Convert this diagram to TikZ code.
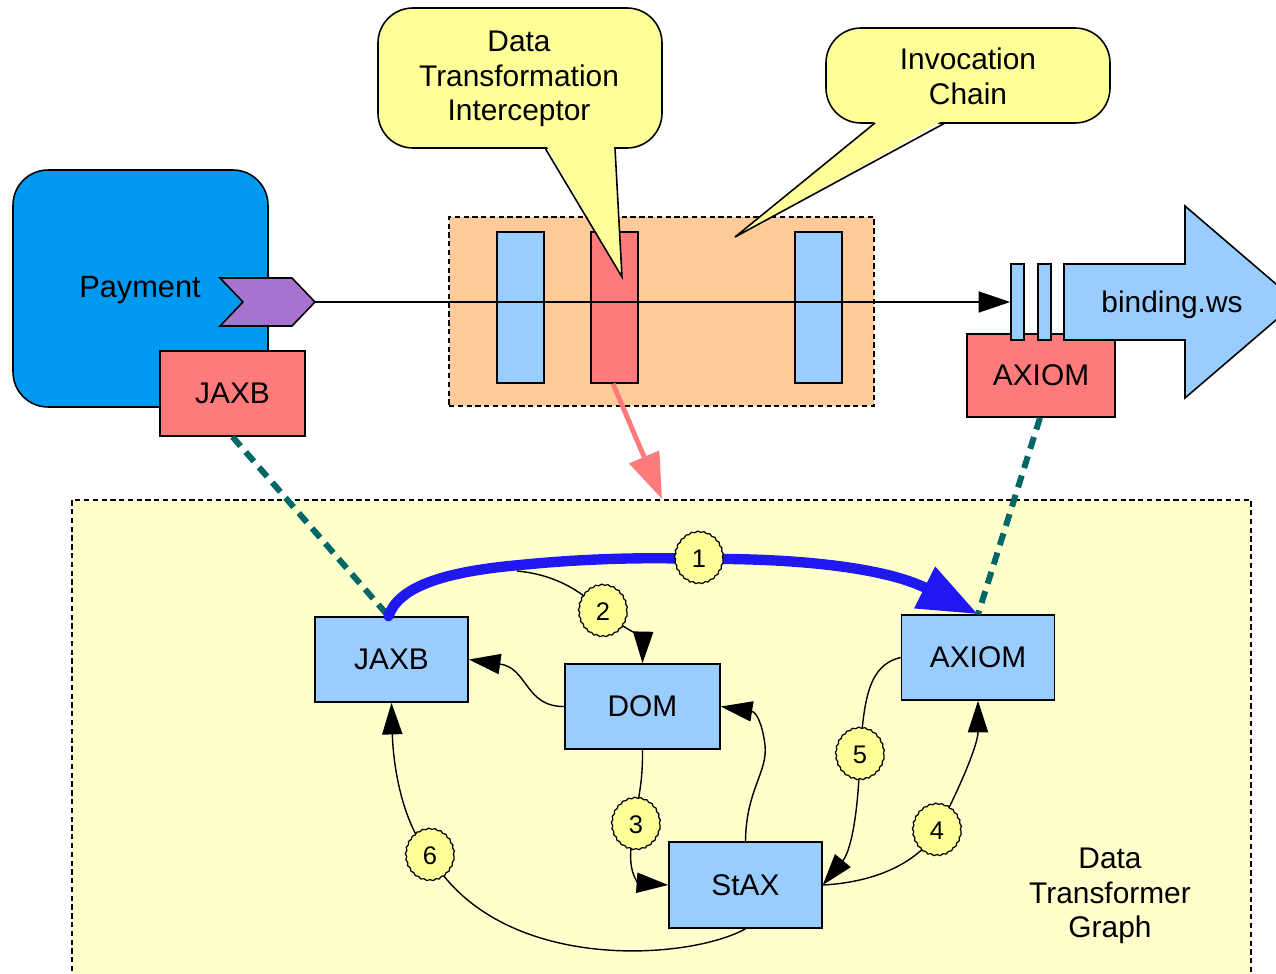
\documentclass[tikz,border=0pt]{standalone}
\usepackage{fontspec}
\setmainfont{Liberation Sans}
\usetikzlibrary{arrows.meta,decorations.pathmorphing,shapes.geometric}

\definecolor{paybl}{RGB}{0,153,240}
\definecolor{boxbl}{RGB}{153,204,255}
\definecolor{boxred}{RGB}{255,123,123}
\definecolor{chev}{RGB}{168,115,208}
\definecolor{orng}{RGB}{255,204,153}
\definecolor{callfill}{RGB}{255,255,153}
\definecolor{graphfill}{RGB}{255,255,204}
\definecolor{teal6}{RGB}{0,102,102}
\definecolor{flowbl}{RGB}{32,24,240}

\begin{document}
\begin{tikzpicture}[x=0.02cm,y=-0.02cm,
  lbl/.style={font=\fontsize{17}{19.8}\selectfont},
  outl/.style={draw=black, line width=0.9pt},
  gbox/.style={outl, fill=boxbl, minimum width=3.06cm, minimum height=1.7cm, inner sep=0pt, lbl},
  rbox/.style={outl, fill=boxred, inner sep=0pt, lbl},
  bar/.style={outl, minimum width=0.94cm, minimum height=3.02cm, inner sep=0pt},
  port/.style={outl, fill=boxbl, minimum width=0.26cm, minimum height=1.52cm, inner sep=0pt},
  num/.style={draw=black, line width=0.7pt, fill=callfill, ellipse, minimum width=0.96cm,
    minimum height=1.03cm, inner sep=0pt, font=\fontsize{14.5}{15}\selectfont,
    decorate, decoration={snake, amplitude=0.35pt, segment length=3.5pt}},
  flow/.style={draw=black, line width=0.8pt, -{Triangle[length=18pt,width=11.5pt]}},
  link/.style={draw=teal6, line width=3.4pt, dash pattern=on 7pt off 4.5pt},
  callout/.style={outl, fill=callfill, rounded corners=0.7cm},
  fine/.style={line width=0.7pt, dash pattern=on 3pt off 2pt},
]
\useasboundingbox (0,0) rectangle (1276,974);
\clip (0,0) rectangle (1276,974);

% ---------- component on the left ----------
\node[outl, fill=paybl, rounded corners=0.7cm, minimum width=5.1cm, minimum height=4.74cm,
  inner sep=0pt] (payment) at (140.5,288.5) {};
\node[font=\fontsize{17.5}{20}\selectfont] (paylabel) at (140,290) {Payment};
\draw[outl, fill=chev, line join=miter] (220,278) -- (292,278) -- (315,302) -- (292,326)
  -- (220,326) -- (243,302) -- cycle;
\coordinate (chevtip) at (315,302);
\node[rbox, minimum width=2.9cm, minimum height=1.7cm] (jaxbtop) at (232.5,393.5) {JAXB};

% ---------- invocation chain ----------
\node[draw=black, fill=orng, fine, minimum width=8.5cm, minimum height=3.78cm, inner sep=0pt]
  (chain) at (661.5,311.5) {};
\node[bar, fill=boxbl] (bar1) at (520.5,307.5) {};
\node[bar, fill=boxred] (bar2) at (614.5,307.5) {};
\node[bar, fill=boxbl] (bar3) at (818.5,307.5) {};

% ---------- reference binding on the right ----------
\node[rbox, minimum width=2.96cm, minimum height=1.66cm] (axiomtop) at (1041,375.5) {AXIOM};
\node[port] (port1) at (1017.5,302) {};
\node[port] (port2) at (1044.5,302) {};
\draw[outl, fill=boxbl, line join=miter] (1064,264) -- (1185,264) -- (1185,206) -- (1297,302)
  -- (1185,398) -- (1185,340) -- (1064,340) -- cycle;
\node[lbl] (binding) at (1172,305) {binding.ws};

% message path through the chain
\draw[line width=0.8pt, -{Triangle[length=18pt,width=12pt]}] (chevtip) -- (port1.west);

% ---------- callouts ----------
\path[callout] (378,8) rectangle (662,148);
\fill[callfill] (546,145) -- (614,145) -- (622,277) -- cycle;
\draw[outl, line join=miter] (545,148) -- (622,277) -- (615,148);
\node[lbl, align=center] (dtilabel) at (519,79) {Data\\Transformation\\Interceptor};

\path[callout] (826,28) rectangle (1110,123);
\fill[callfill] (877,120) -- (944,120) -- (735,237) -- cycle;
\draw[outl, line join=miter] (875,123) -- (735,237) -- (945,123);
\node[lbl, align=center] (chainlabel) at (968,76) {Invocation\\Chain};

% ---------- transformer graph ----------
\fill[graphfill] (72,500) rectangle (1251,980);
\draw[black, fine] (72,980) -- (72,500) -- (1251,500) -- (1251,980);
\coordinate (graphtop) at (662,499);
\node[lbl, align=center] (graphlabel) at (1110,896) {Data\\Transformer\\Graph};

\draw[draw=boxred, line width=2.8pt, -{Triangle[length=26pt,width=18pt]}]
  ([xshift=-0.03cm]bar2.south) -- (graphtop);

\node[gbox] (jaxb) at (391.5,659.5) {JAXB};
\node[gbox, minimum width=3.1cm] (dom) at (642.5,706.5) {DOM};
\node[gbox] (axiom) at (978,657.5) {AXIOM};
\node[gbox, minimum height=1.72cm] (stax) at (745.5,885) {StAX};

\draw[link] (jaxbtop.south) -- ([xshift=-0.06cm]jaxb.north);
\draw[link] ([xshift=-0.02cm]axiomtop.south) -- (axiom.north);

\coordinate (c1) at (699,559);
\coordinate (c2) at (603,612);
\coordinate (c3) at (636,825);
\coordinate (c4) at (937,831);
\coordinate (c5) at (860,755);
\coordinate (c6) at (430,856);
\coordinate (split) at (517,571);

% step 1: the direct transformation
\draw[draw=flowbl, line width=5.9pt, line cap=round, -{Triangle[length=34pt,width=25pt]}]
  ([xshift=-0.06cm]jaxb.north) .. controls (398,588) and (440,572) .. (520,565)
  .. controls (580,559) and (640,557) .. (c1)
  .. controls (780,558) and (880,565) .. (axiom.north);

% the other transformation steps
\draw[flow] (split) .. controls (560,575) and (585,595) .. (c2)
  .. controls (625,628) and (643,640) .. (dom.north);
\draw[flow] (dom.west) .. controls (525,707) and (528,668) .. (jaxb.east);
\draw[flow] (dom.south) .. controls (643,790) and (636,800) .. (c3)
  .. controls (622,870) and (640,883) .. (stax.west);
\draw[flow] (stax.north) .. controls (746,790) and (768,772) .. (765,745)
  .. controls (762,722) and (756,712) .. (dom.east);
\draw[flow] (stax.east) .. controls (880,882) and (920,860) .. (c4)
  .. controls (958,792) and (978,745) .. (axiom.south);
\draw[flow] (axiom.west) .. controls (868,665) and (864,700) .. (c5)
  .. controls (858,820) and (850,852) .. (stax.east);
\draw[flow] (stax.south) .. controls (690,960) and (500,975) .. (c6)
  .. controls (400,820) and (393,760) .. (jaxb.south);

\node[num] (n1) at (c1) {1};
\node[num] (n2) at (c2) {2};
\node[num] (n3) at (c3) {3};
\node[num] (n4) at (c4) {4};
\node[num] (n5) at (c5) {5};
\node[num] (n6) at (c6) {6};
\end{tikzpicture}
\end{document}
